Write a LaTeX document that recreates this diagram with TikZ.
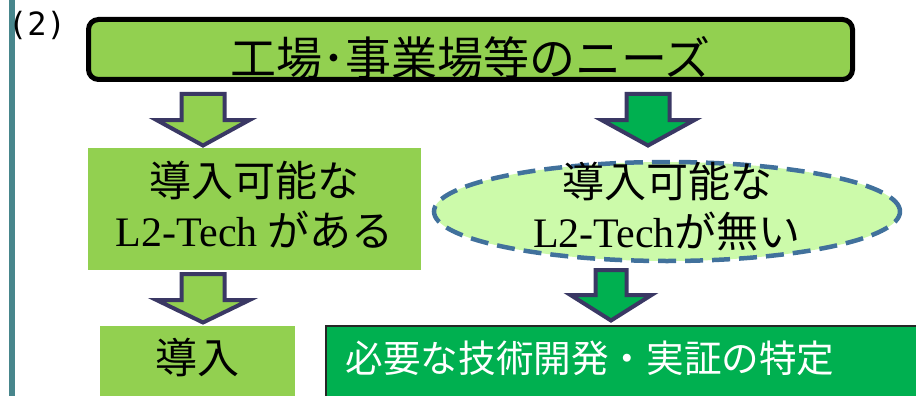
\documentclass[tikz,border=0pt]{standalone}
\usepackage{fontspec}
\setmainfont{Liberation Serif}
\newfontfamily\jp{Noto Sans CJK JP}
\newfontfamily\numfont{DejaVu Sans Mono}
\usetikzlibrary{shapes.geometric}
\definecolor{needGreen}{RGB}{146,208,80}
\definecolor{devGreen}{RGB}{0,176,80}
\definecolor{paleGreen}{RGB}{204,250,170}
\definecolor{arrowNavy}{RGB}{58,56,100}
\definecolor{dashBlue}{RGB}{65,113,156}
\definecolor{barTeal}{RGB}{72,134,140}
\tikzset{
    boxNeed/.style={rectangle, draw=black, fill=needGreen, rounded corners=10pt,
                  line width=5pt, minimum width=764pt, minimum height=60pt, inner sep=0pt,
                  text height=52pt, text depth=0pt, font=\jp\fontsize{46}{50}\selectfont},
    boxGreen/.style={rectangle, fill=needGreen, inner sep=0pt},
    boxDev/.style={rectangle, draw=black!85, line width=1.5pt, fill=devGreen, text=white,
                  minimum width=600pt, minimum height=75pt, text width=560pt, align=left,
                  inner xsep=20pt, inner ysep=0pt, text height=30pt, text depth=11.4pt,
                  font=\jp\fontsize{37.6}{45}\selectfont},
    ellipseBox/.style={ellipse, draw=dashBlue, fill=paleGreen, line width=4.5pt,
                  dash pattern=on 18pt off 9pt, inner sep=0pt,
                  minimum width=466pt, minimum height=99pt},
    jpText/.style={font=\jp\fontsize{42}{50}\selectfont, align=center, inner sep=0pt},
    pics/downArrow/.style n args={5}{code={
        \draw[arrowNavy, line width=4pt, fill=#1] (0,0) -- (-#2,-#4) -- (-#3,-#4) -- (-#3,-#5)
            -- (#3,-#5) -- (#3,-#4) -- (#2,-#4) -- cycle;
    }}
}
\begin{document}
\begin{tikzpicture}[x=1pt, y=-1pt]
  \useasboundingbox (0,0) rectangle (916,396);
  \clip (0,0) rectangle (916,396);
  \draw[barTeal, line width=6pt] (12,-5) -- (12,401);
  \node[font=\numfont\fontsize{32}{36}\selectfont, inner sep=0pt] (NUM) at (37,25) {(2)};

  \node[boxNeed] (NEED) at (470.5,49.5) {工場･事業場等のニーズ};
  \node[boxGreen, minimum width=333pt, minimum height=122pt,
        label={[jpText, yshift=4pt]center:導入可能な\\{\rmfamily L2-Tech} がある}] (HAVE) at (254.5,209) {};
  \node[ellipseBox,
        label={[jpText, yshift=5pt]center:導入可能な\\{\rmfamily L2-Tech}が無い}] (NONE) at (667,211.5) {};
  \node[boxGreen, minimum width=195pt, minimum height=70pt, jpText,
        text height=36pt, text depth=12pt] (INTRO) at (197.5,361) {導入};
  \node[boxDev, anchor=north west] (DEV) at (325,325) {必要な技術開発・実証の特定};

  \pic (A1) at (203,145.5) {downArrow={needGreen}{46.5}{21.5}{25.5}{51.5}};
  \pic (A2) at (648,145.5) {downArrow={devGreen}{46.5}{21.5}{25.5}{51.5}};
  \pic (A3) at (203,322.5) {downArrow={needGreen}{46.5}{21.5}{22.5}{48.5}};
  \pic (A4) at (611,320.5) {downArrow={devGreen}{40.5}{15.5}{25.5}{50.5}};
\end{tikzpicture}
\end{document}
